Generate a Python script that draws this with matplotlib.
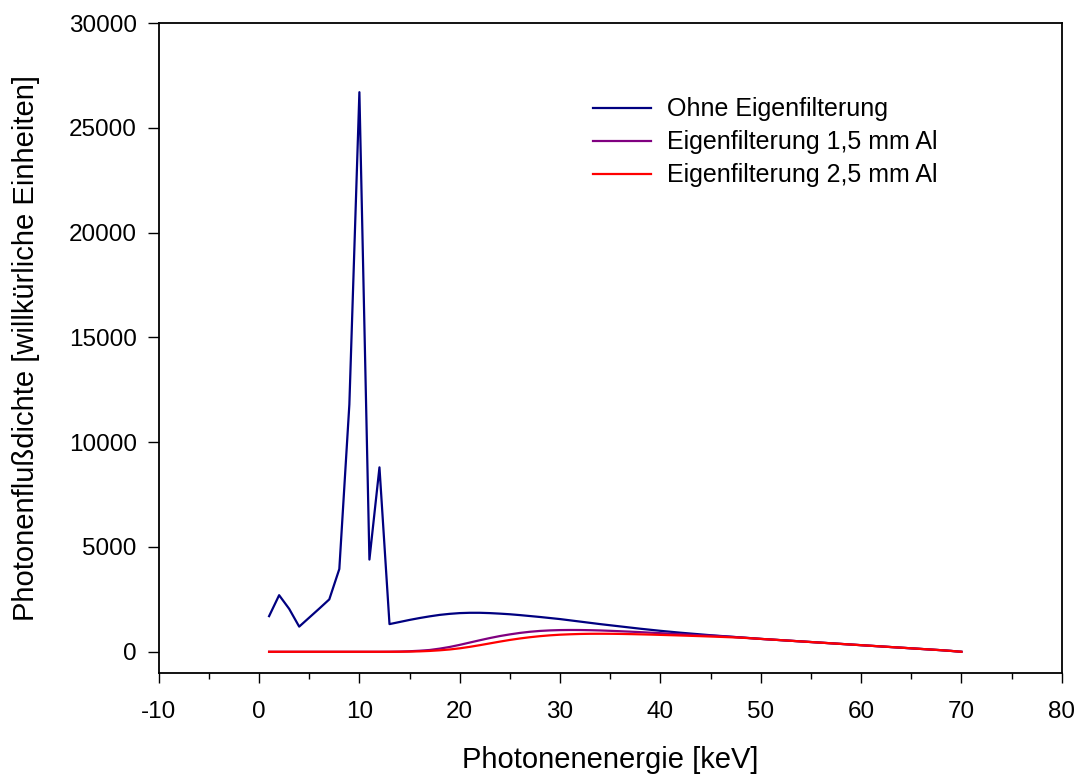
import matplotlib
matplotlib.use("Agg")
import matplotlib.pyplot as plt
from matplotlib.ticker import MultipleLocator

# ---------------------------------------------------------------------------
# Data (1 keV steps)
# ---------------------------------------------------------------------------
energy_kev = list(range(1, 71))

flux_unfiltered = [
    1700, 2700, 2050, 1200, 1630, 2060, 2500, 3950, 11800, 26700,
    4400, 8800, 1320, 1420, 1520, 1610, 1690, 1760, 1810, 1845,
    1860, 1860, 1845, 1820, 1790, 1750, 1705, 1660, 1610, 1560,
    1500, 1440, 1380, 1320, 1265, 1210, 1155, 1100, 1050, 1000,
    955, 910, 870, 830, 790, 755, 720, 685, 650, 615,
    585, 555, 525, 495, 465, 435, 405, 375, 345, 315,
    285, 255, 225, 195, 165, 135, 105, 75, 40, 0,
]

flux_al_15 = [
    0, 0, 0, 0, 0, 0, 0, 0, 0, 0,
    0, 0, 3, 10, 25, 50, 85, 150, 230, 330,
    440, 550, 655, 750, 830, 900, 955, 995, 1020, 1035,
    1040, 1038, 1030, 1018, 1000, 980, 960, 937, 912, 888,
    862, 838, 812, 787, 770, 745, 715, 685, 650, 615,
    585, 555, 525, 495, 465, 435, 405, 375, 345, 315,
    285, 255, 225, 195, 165, 135, 105, 75, 40, 0,
]

flux_al_25 = [
    0, 0, 0, 0, 0, 0, 0, 0, 0, 0,
    0, 0, 0, 2, 8, 20, 40, 70, 110, 165,
    235, 315, 400, 485, 565, 635, 695, 745, 785, 815,
    835, 850, 858, 860, 858, 852, 843, 832, 820, 806,
    792, 777, 761, 745, 728, 710, 692, 672, 645, 615,
    585, 555, 525, 495, 465, 435, 405, 375, 345, 315,
    285, 255, 225, 195, 165, 135, 105, 75, 40, 0,
]

series_labels = [
    "Ohne Eigenfilterung",
    "Eigenfilterung 1,5 mm Al",
    "Eigenfilterung 2,5 mm Al",
]
series_colors = ["#000080", "#800080", "#ff0000"]

x_ticks = list(range(-10, 81, 10))
y_ticks = list(range(0, 30001, 5000))

# ---------------------------------------------------------------------------
# Plot
# ---------------------------------------------------------------------------
plt.rcParams["font.family"] = ["Liberation Sans", "DejaVu Sans"]
plt.rcParams["axes.unicode_minus"] = False

fig = plt.figure(figsize=(10.79, 7.78), dpi=100)
ax = fig.add_axes([0.1471, 0.1353, 0.8369, 0.8351])

for values, label, color in zip(
    [flux_unfiltered, flux_al_15, flux_al_25], series_labels, series_colors
):
    ax.plot(energy_kev, values, color=color, linewidth=1.6, label=label)

ax.set_xlim(-10, 80)
ax.set_ylim(-1000, 30000)
ax.set_xticks(x_ticks)
ax.set_yticks(y_ticks)
ax.xaxis.set_minor_locator(MultipleLocator(5))

ax.tick_params(axis="both", which="major", direction="out", labelsize=17.5,
               width=1.0, color="black")
ax.tick_params(axis="x", which="major", length=7.2, pad=13)
ax.tick_params(axis="x", which="minor", length=4.3, width=1.0)
ax.tick_params(axis="y", which="major", length=7.8, pad=8)
ax.tick_params(top=False, right=False)

for spine in ax.spines.values():
    spine.set_linewidth(1.3)

ax.set_xlabel("Photonenenergie [keV]", fontsize=21)
ax.set_ylabel("Photonenflußdichte [willkürliche Einheiten]", fontsize=21)
ax.xaxis.set_label_coords(0.5, -0.113)
ax.yaxis.set_label_coords(-0.131, 0.5)

ax.legend(
    loc="upper left",
    bbox_to_anchor=(0.5496, 0.875),
    bbox_transform=fig.transFigure,
    frameon=False,
    fontsize=18,
    handlelength=2.32,
    handletextpad=0.63,
    labelspacing=0.36,
    borderpad=0,
    borderaxespad=0,
)

fig.savefig("out.png", dpi=100)
